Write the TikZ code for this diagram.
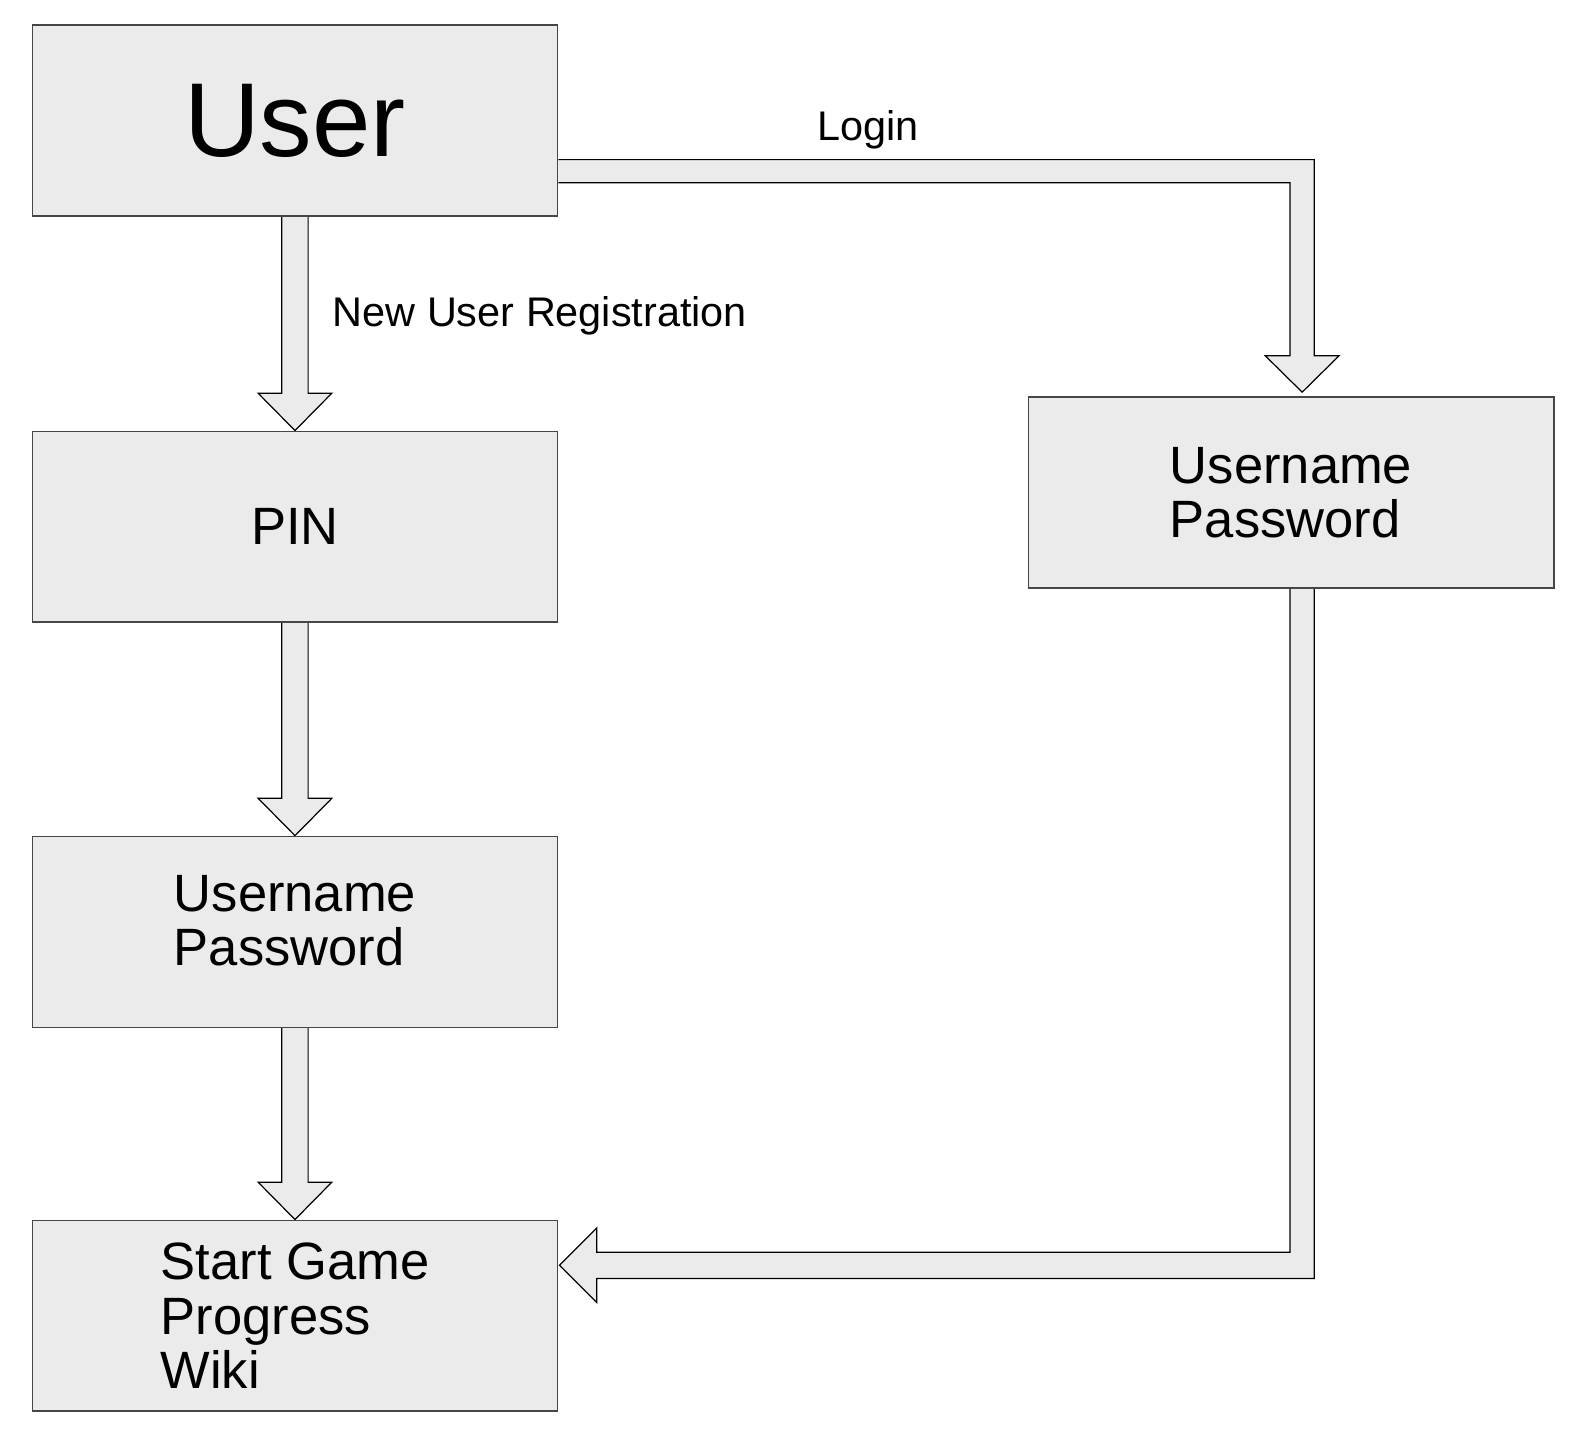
\documentclass[tikz,border=0pt]{standalone}
\usepackage{fontspec}
\setmainfont{Liberation Sans}
\usetikzlibrary{calc,backgrounds}
\definecolor{FillClr}{RGB}{235,235,235}
\definecolor{EdgeClr}{RGB}{70,70,70}

\begin{document}
\begin{tikzpicture}[x=0.5pt,y=-0.5pt,
  box/.style={draw=EdgeClr,line width=0.8pt,fill=FillClr,minimum width=260pt,
    minimum height=94.5pt,inner sep=0pt,align=left,
    font=\fontsize{26}{27}\selectfont},
  flow/.style={draw=black,line width=0.6pt,fill=FillClr,line join=miter},
  lbl/.style={anchor=base west,inner sep=0pt,font=\fontsize{20.5}{22}\selectfont}]
\useasboundingbox (0,0) rectangle (1568,1439);

\node[box,font=\fontsize{52}{52}\selectfont] (user) at (292,119.5) {User};
\node[box] (pin) at (292,521.5) {PIN};
\node[box,text depth=11.5pt] (regup) at (292,922.5) {Username\\Password};
\node[box] (start) at (292,1302.5) {Start Game\\Progress\\Wiki};
\node[box] (login) at (1278,487.5) {Username\\Password};

\node[lbl] (loginlbl) at (809,138.6) {Login};
\node[lbl] (newlbl) at (329,323.5) {New User Registration};

\coordinate (lt) at ($(user.east)+(0,38.5)$);
\coordinate (lb) at ($(user.east)+(0,61.5)$);
\coordinate (lh) at ($(login.north)+(11,-4)$);
\coordinate (rs) at ($(login.south)+(11,0)$);
\coordinate (rh) at ($(start.east)+(1,-50)$);

\begin{scope}[on background layer]
\foreach \a/\b in {user/pin,pin/regup,regup/start}
  \filldraw[flow] ($(\a.south)+(-13,0)$) -- ($(\b.north)+(-13,-37)$)
    -- ($(\b.north)+(-36.5,-37)$) -- (\b.north) -- ($(\b.north)+(36.5,-37)$)
    -- ($(\b.north)+(13,-37)$) -- ($(\a.south)+(13,0)$);

\filldraw[flow] (lt) -- ($(lt -| lh)+(12,0)$) -- ($(lh)+(12,-36)$)
  -- ($(lh)+(36.5,-36)$) -- (lh) -- ($(lh)+(-36.5,-36)$) -- ($(lh)+(-12,-36)$)
  -- ($(lb -| lh)+(-12,0)$) -- (lb);

\filldraw[flow] ($(rs)+(-12,0)$) -- ($(rs |- rh)+(-12,-13)$) -- ($(rh)+(37,-13)$)
  -- ($(rh)+(37,-37)$) -- (rh) -- ($(rh)+(37,37)$) -- ($(rh)+(37,13)$)
  -- ($(rs |- rh)+(12,13)$) -- ($(rs)+(12,0)$);
\end{scope}

\end{tikzpicture}
\end{document}
